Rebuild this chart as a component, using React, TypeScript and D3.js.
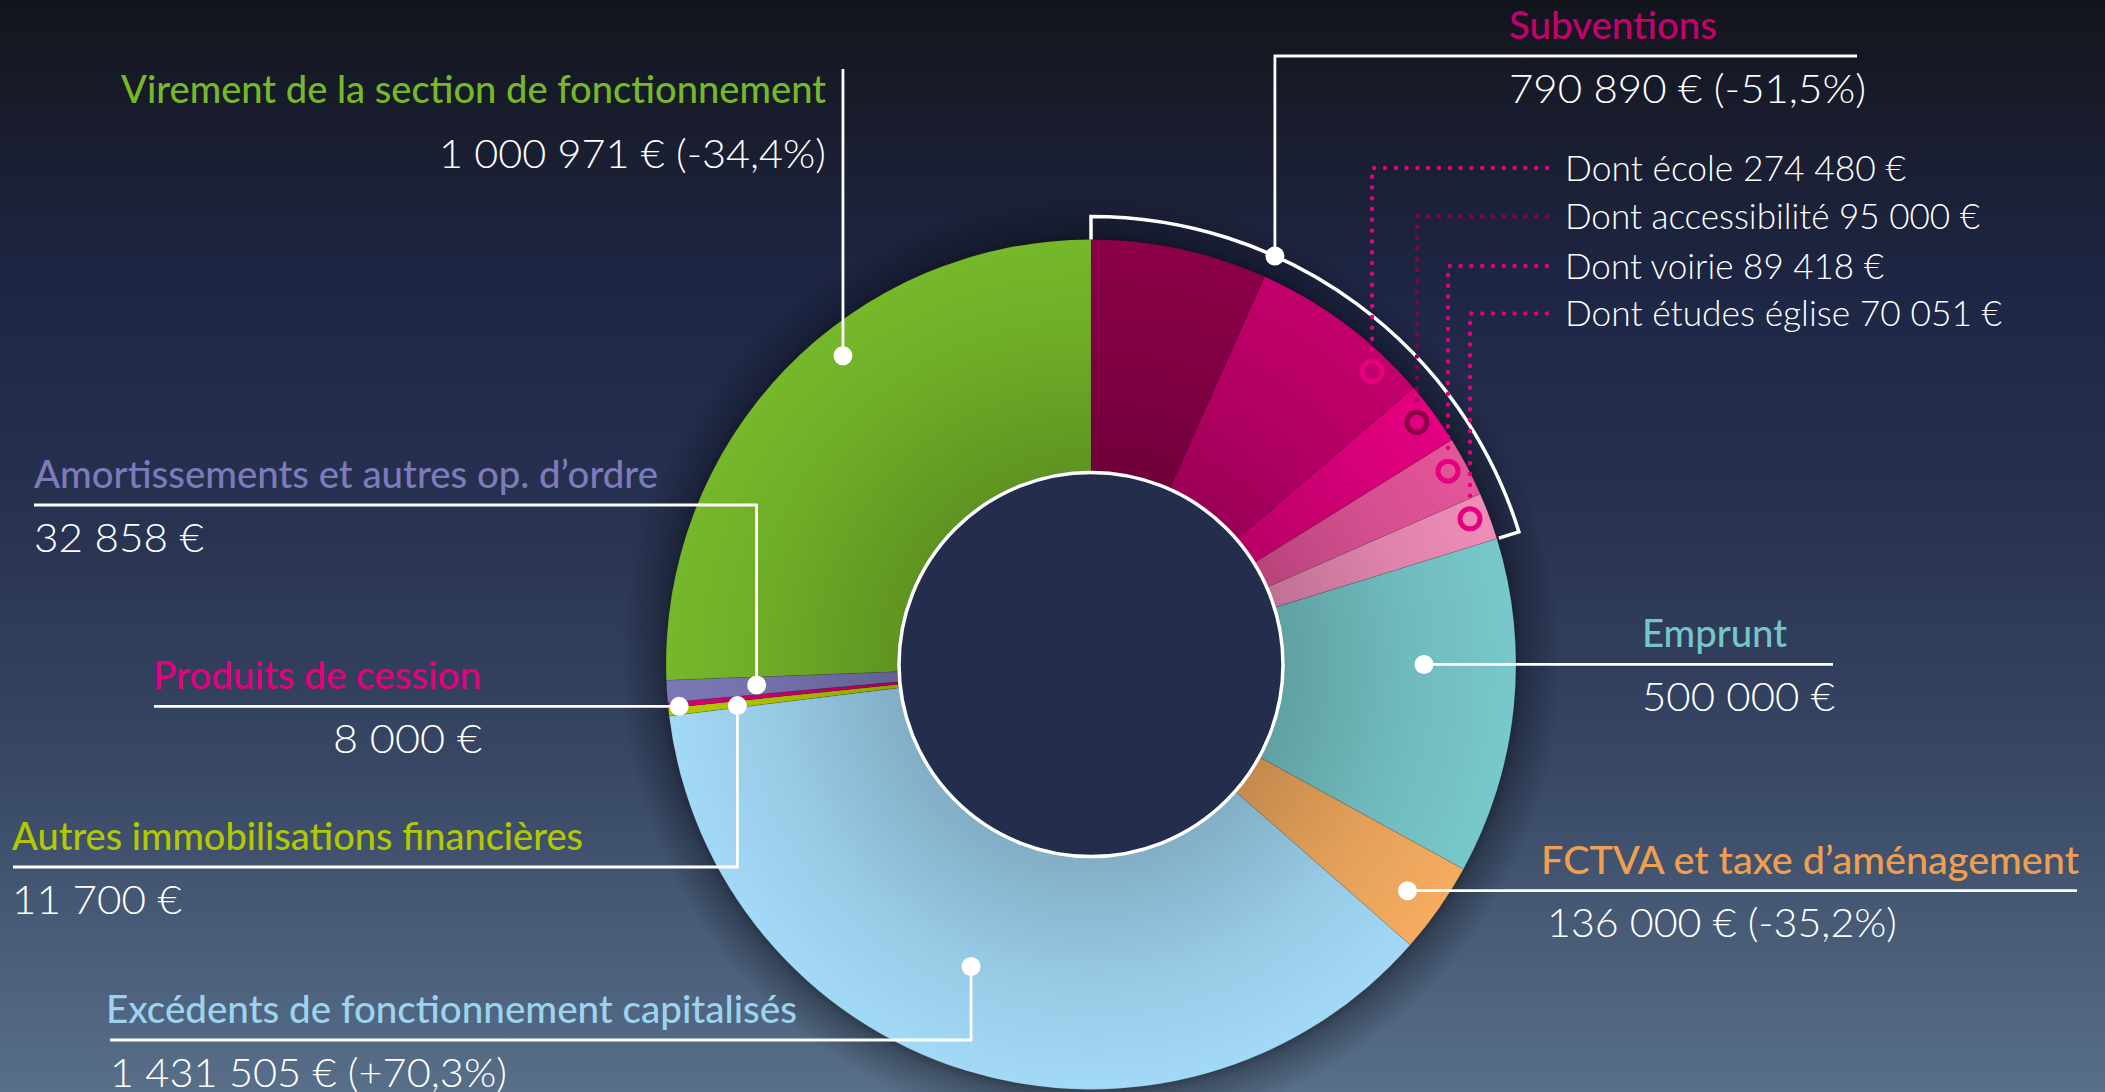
import React from "react";
import * as d3 from "d3";

const W = 2105;
const H = 1092;

// ---------------- data ----------------
const mainCategories = [
  "Subventions",
  "Emprunt",
  "FCTVA et taxe d’aménagement",
  "Excédents de fonctionnement capitalisés",
  "Autres immobilisations financières",
  "Produits de cession",
  "Amortissements et autres op. d’ordre",
  "Virement de la section de fonctionnement",
];
const mainValues = [790890, 500000, 136000, 1431505, 11700, 8000, 32858, 1000971];
const mainValueLabels = [
  "790 890 € (-51,5%)",
  "500 000 €",
  "136 000 € (-35,2%)",
  "1 431 505 € (+70,3%)",
  "11 700 €",
  "8 000 €",
  "32 858 €",
  "1 000 971 € (-34,4%)",
];
const mainColors = ["#8B0048", "#78C8CB", "#F5AC60", "#A2D9F6", "#B3CB00", "#D6006F", "#7B78B6", "#76B82A"];
const labelColors = ["#C6006D", "#74C6CA", "#EFA04F", "#9DD3EE", "#B2C800", "#E4007F", "#7D7BBA", "#76B82A"];

const subCategories = ["Dont école", "Dont accessibilité", "Dont voirie", "Dont études église"];
const subValues = [274480, 95000, 89418, 70051];
const subValueLabels = ["274 480 €", "95 000 €", "89 418 €", "70 051 €"];
const subColors = ["#C2006B", "#E4007F", "#E5559A", "#EF8DB8"];
const subMarkerColors = ["#E4007F", "#8B0048", "#E4007F", "#E4007F"];

// ---------------- layout ----------------
const CX = 1091;
const CY = 664.5;
const R_IN = 191;
const R_OUT = 425;
const R_BRACKET = 448;

type Cfg = {
  frac: number;
  r: number;
  kind: "vh" | "h" | "v";
  elbow?: number; // y of horizontal line for vh
  lineEnd?: number; // x end of horizontal line
  topY?: number; // for v
  textX: number;
  anchor: "start" | "end";
  labelW: number;
  valueW: number;
  valueX?: number;
  valueAnchor?: "start" | "end";
  labelBase?: number;
  valueBase?: number;
};

const layout: Cfg[] = [
  { frac: 0.333, r: R_BRACKET, kind: "vh", elbow: 56, lineEnd: 1857, textX: 1509, anchor: "start", labelW: 208, valueW: 357 },
  { frac: 0.374, r: 333, kind: "h", lineEnd: 1833, textX: 1642, anchor: "start", labelW: 145, valueW: 193 },
  { frac: 0.54, r: 389, kind: "h", lineEnd: 2077, textX: 1541, anchor: "start", labelW: 538, valueW: 350, valueX: 1547 },
  { frac: 0.534, r: 325, kind: "vh", elbow: 1040, lineEnd: 110, textX: 106, anchor: "start", labelW: 691, valueW: 397, valueX: 110 },
  { frac: 0.3, r: 356, kind: "vh", elbow: 867, lineEnd: 13, textX: 12, anchor: "start", labelW: 571, valueW: 170 },
  { frac: 0.1, r: 414, kind: "h", lineEnd: 154, textX: 153, anchor: "start", labelW: 328, valueW: 149, valueX: 482, valueAnchor: "end" },
  { frac: 0.54, r: 335, kind: "vh", elbow: 505, lineEnd: 34, textX: 34, anchor: "start", labelW: 624, valueW: 170 },
  { frac: 0.579, r: 396, kind: "v", topY: 69, textX: 826, anchor: "end", labelW: 705, valueW: 387, labelBase: 103, valueBase: 168 },
];

const subLayout = [
  { frac: 0.78, lineY: 168, textW: 341 },
  { frac: 0.46, lineY: 216.5, textW: 415 },
  { frac: 0.42, lineY: 266, textW: 319 },
  { frac: 0.41, lineY: 313.5, textW: 437 },
];
const SUB_R = 406;
const SUB_LINE_END = 1547;
const SUB_TEXT_X = 1565;

const LABEL_FONT = "Lato, 'Open Sans', sans-serif";

export default function App() {
  const subTotal = d3.sum(subValues);
  const sliceValues = [mainValues[0] - subTotal, ...subValues, ...mainValues.slice(1)];
  const sliceColors = [mainColors[0], ...subColors, ...mainColors.slice(1)];

  const pie = d3
    .pie<number>()
    .sort(null)
    .value((d) => d)
    .startAngle(0)
    .endAngle(2 * Math.PI);
  const slices = pie(sliceValues);
  const groups = pie(mainValues);

  const arc = d3.arc<d3.PieArcDatum<number>>().innerRadius(R_IN).outerRadius(R_OUT);

  const polar = (a: number, r: number): [number, number] => [CX + r * Math.sin(a), CY - r * Math.cos(a)];
  const at = (d: d3.PieArcDatum<number>, frac: number, r: number) =>
    polar(d.startAngle + frac * (d.endAngle - d.startAngle), r);

  // bracket around subventions
  const g0 = groups[0];
  const [bx0, by0] = polar(g0.startAngle, R_OUT);
  const [bx1, by1] = polar(g0.startAngle, R_BRACKET);
  const [bx2, by2] = polar(g0.endAngle, R_BRACKET);
  const [bx3, by3] = polar(g0.endAngle, R_OUT + 2);
  const bracketPath = `M${bx0},${by0} L${bx1},${by1} A${R_BRACKET},${R_BRACKET} 0 0 1 ${bx2},${by2} L${bx3},${by3}`;

  return (
    <svg
      width={W}
      height={H}
      viewBox={`0 0 ${W} ${H}`}
      style={{ position: "absolute", left: 0, top: 0, display: "block" }}
    >
      <defs>
        <linearGradient id="bg" x1="0" y1="0" x2="0" y2="1">
          <stop offset="0" stopColor="#13151c" />
          <stop offset="0.12" stopColor="#191d2e" />
          <stop offset="0.28" stopColor="#1f2747" />
          <stop offset="0.45" stopColor="#26304f" />
          <stop offset="0.7" stopColor="#374764" />
          <stop offset="1" stopColor="#586f89" />
        </linearGradient>
        <radialGradient id="shade" gradientUnits="userSpaceOnUse" cx={CX} cy={CY} r={R_OUT}>
          <stop offset={R_IN / R_OUT} stopColor="#000" stopOpacity="0.2" />
          <stop offset="0.75" stopColor="#000" stopOpacity="0.07" />
          <stop offset="1" stopColor="#000" stopOpacity="0" />
        </radialGradient>
        <radialGradient id="outerShadow" gradientUnits="userSpaceOnUse" cx={CX} cy={CY} r={R_OUT + 45}>
          <stop offset={(R_OUT - 5) / (R_OUT + 45)} stopColor="#05070d" stopOpacity="0.55" />
          <stop offset={(R_OUT + 8) / (R_OUT + 45)} stopColor="#05070d" stopOpacity="0.3" />
          <stop offset="1" stopColor="#05070d" stopOpacity="0" />
        </radialGradient>
      </defs>

      <rect x={0} y={0} width={W} height={H} fill="url(#bg)" />

      {/* shadow around donut */}
      <circle cx={CX} cy={CY} r={R_OUT + 45} fill="url(#outerShadow)" />

      {/* slices */}
      <g transform={`translate(${CX},${CY})`}>
        {slices.map((s, i) => (
          <path key={i} d={arc(s) || ""} fill={sliceColors[i]} stroke="rgba(0,0,0,0.12)" strokeWidth={0.8} />
        ))}
      </g>
      <circle cx={CX} cy={CY} r={R_OUT} fill="url(#shade)" />

      {/* inner hole */}
      <circle cx={CX} cy={CY} r={R_IN + 1} fill="#232e4c" stroke="#ffffff" strokeWidth={3.5} />

      {/* bracket around subventions */}
      <path d={bracketPath} fill="none" stroke="#ffffff" strokeWidth={3.5} strokeLinejoin="miter" />

      {/* sub-breakdown dotted leaders */}
      {subLayout.map((c, i) => {
        const sl = slices[i + 1];
        const [x, y] = at(sl, c.frac, SUB_R);
        return (
          <g key={"sub" + i}>
            <path
              d={`M${SUB_LINE_END},${c.lineY} H${x} V${y - 17}`}
              fill="none"
              stroke={subMarkerColors[i]}
              strokeWidth={4.5}
              strokeLinecap="round"
              strokeDasharray="0 10.8"
            />
            <circle cx={x} cy={y} r={10} fill="none" stroke={subMarkerColors[i]} strokeWidth={5} />
            <text
              x={SUB_TEXT_X}
              y={c.lineY + 12.5}
              fill="#ffffff"
              fontFamily={LABEL_FONT}
              fontWeight={300}
              fontSize={36}
              textLength={c.textW}
              lengthAdjust="spacingAndGlyphs"
            >
              {subCategories[i] + " " + subValueLabels[i]}
            </text>
          </g>
        );
      })}

      {/* main leaders and labels */}
      {layout.map((c, i) => {
        const [dx, dy] = at(groups[i], c.frac, c.r);
        let d = "";
        let lineY = dy;
        if (c.kind === "vh") {
          d = `M${dx},${dy} V${c.elbow} H${c.lineEnd}`;
          lineY = c.elbow as number;
        } else if (c.kind === "h") {
          d = `M${dx},${dy} H${c.lineEnd}`;
        } else {
          d = `M${dx},${dy} V${c.topY}`;
        }
        const labelBase = c.labelBase ?? lineY - 17;
        const valueBase = c.valueBase ?? lineY + 46.5;
        return (
          <g key={"lab" + i}>
            <path d={d} fill="none" stroke="#ffffff" strokeWidth={2.8} />
            <circle cx={dx} cy={dy} r={9.5} fill="#ffffff" />
            <text
              x={c.textX}
              y={labelBase}
              textAnchor={c.anchor}
              fill={labelColors[i]}
              fontFamily={LABEL_FONT}
              fontWeight={500}
              fontSize={39}
              textLength={c.labelW}
              lengthAdjust="spacingAndGlyphs"
            >
              {mainCategories[i]}
            </text>
            <text
              x={c.valueX ?? c.textX}
              y={valueBase}
              textAnchor={c.valueAnchor ?? c.anchor}
              fill="#ffffff"
              fontFamily={LABEL_FONT}
              fontWeight={300}
              fontSize={39}
              textLength={c.valueW}
              lengthAdjust="spacingAndGlyphs"
            >
              {mainValueLabels[i]}
            </text>
          </g>
        );
      })}
    </svg>
  );
}
